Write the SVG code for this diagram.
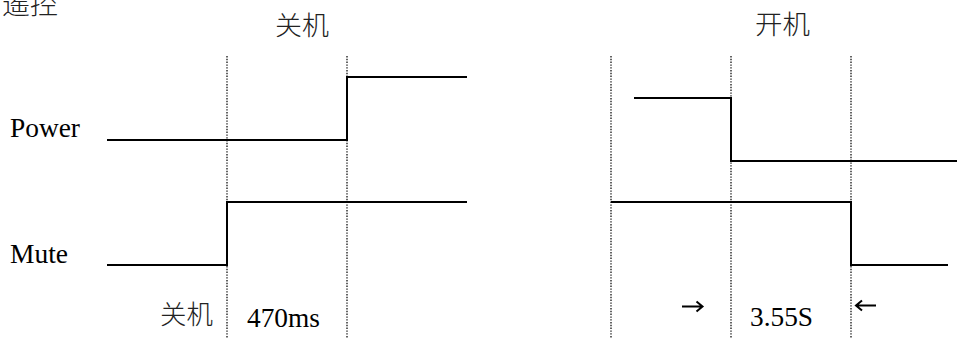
<svg xmlns="http://www.w3.org/2000/svg" width="959" height="340" viewBox="0 0 959 340">
<style>
.sig{fill:none;stroke:#000;stroke-width:2;stroke-linejoin:miter}
.grid{fill:none;stroke:#222;stroke-width:1.4;stroke-dasharray:1.4 1.4}
.lat{font-family:"Liberation Serif","Times New Roman",serif;font-size:27px;fill:#000}
.cjk{font-family:"Noto Sans CJK SC","Noto Sans CJK JP",sans-serif;font-size:26px;font-weight:300;fill:#222}
.arr{fill:none;stroke:#000;stroke-width:2;stroke-linecap:butt;stroke-linejoin:miter}
</style>
<rect width="959" height="340" fill="#fff"/>
<g id="titles">
<text class="cjk" x="2" y="14" textLength="56" lengthAdjust="spacingAndGlyphs">遥控</text>
<text class="cjk" x="275" y="35" textLength="54" lengthAdjust="spacingAndGlyphs">关机</text>
<text class="cjk" x="755" y="34" textLength="55" lengthAdjust="spacingAndGlyphs">开机</text>
</g>
<g id="gridlines">
<line class="grid" x1="227" y1="56" x2="227" y2="338"/>
<line class="grid" x1="347" y1="56" x2="347" y2="338"/>
<line class="grid" x1="611" y1="56" x2="611" y2="338"/>
<line class="grid" x1="731" y1="56" x2="731" y2="338"/>
<line class="grid" x1="851" y1="56" x2="851" y2="338"/>
</g>
<g id="power">
<text class="lat" x="10" y="137" textLength="70" lengthAdjust="spacingAndGlyphs">Power</text>
<polyline class="sig" points="107,140 347,140 347,77 467,77"/>
<polyline class="sig" points="634,98 731,98 731,161 957,161"/>
</g>
<g id="mute">
<text class="lat" x="10" y="263" textLength="58" lengthAdjust="spacingAndGlyphs">Mute</text>
<polyline class="sig" points="107,265 227,265 227,202 467,202"/>
<polyline class="sig" points="611,202 851,202 851,265 948,265"/>
</g>
<g id="labels">
<text class="cjk" x="160" y="324" textLength="53" lengthAdjust="spacingAndGlyphs">关机</text>
<text class="lat" x="247" y="327" textLength="73" lengthAdjust="spacingAndGlyphs">470ms</text>
<text class="lat" x="750" y="326" textLength="63" lengthAdjust="spacingAndGlyphs">3.55S</text>
</g>
<g id="connectors">
<path class="arr" d="M682,306.5 H702 M696.5,301.5 L702.5,306.5 L696.5,311.5"/>
<path class="arr" d="M856,305.5 H876 M862,300.5 L856,305.5 L862,310.5"/>
</g>
</svg>
